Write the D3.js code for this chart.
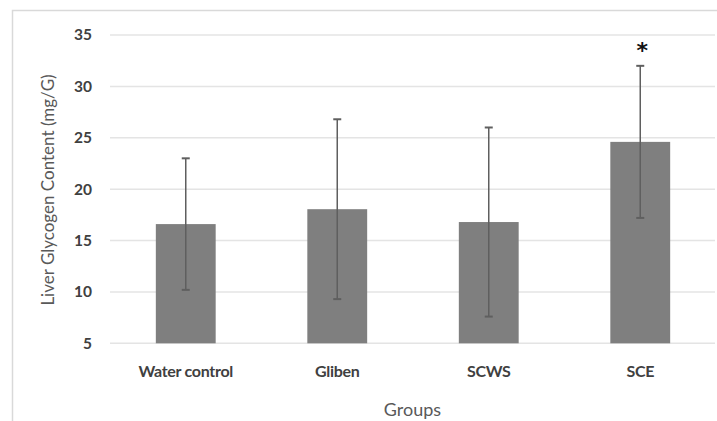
<!DOCTYPE html>
<html><head><meta charset="utf-8">
<script src="https://cdn.jsdelivr.net/npm/d3@7"></script>
<style>body{margin:0;background:#fff}svg{display:block}</style>
</head><body>
<svg id="c" width="717" height="421"></svg>
<script>
const categories = ["Water control", "Gliben", "SCWS", "SCE"];
const means = [16.6, 18.05, 16.8, 24.6];
const errors = [6.4, 8.75, 9.2, 7.4];
const significant = [false, false, false, true];
const yTicks = [5, 10, 15, 20, 25, 30, 35];

const svg = d3.select("#c");
const W = 717, H = 421;
const x = d3.scaleBand().domain(categories).range([110, 716]).paddingInner(0.605).paddingOuter(0.3025);
const y = d3.scaleLinear().domain([5, 35]).range([343.3, 35]);

// frame
svg.append("path").attr("d", `M12.5,${H+2} V10.5 H${W+2}`).attr("fill","none").attr("stroke","#d9d9d9").attr("stroke-width",1.5);

// gridlines
svg.append("g").selectAll("line").data(yTicks).join("line")
  .attr("x1",110).attr("x2",715).attr("y1",d=>y(d)).attr("y2",d=>y(d))
  .attr("stroke","#e4e4e4").attr("stroke-width",1.5);

// y axis labels
const yAxis = d3.axisLeft(y).tickValues(yTicks).tickSize(0).tickPadding(0);
const gy = svg.append("g").attr("transform","translate(92,0)").call(yAxis);
gy.select(".domain").remove();
gy.selectAll("text").attr("font-family","Lato, 'Open Sans', sans-serif").attr("font-size",15.5).attr("font-weight","bold").attr("fill","#404040");

// bars
svg.append("g").selectAll("rect").data(categories).join("rect")
  .attr("x",d=>x(d)).attr("width",x.bandwidth())
  .attr("y",(d,i)=>y(means[i])).attr("height",(d,i)=>y(5)-y(means[i]))
  .attr("fill","#7f7f7f");

// error bars
const eb = svg.append("g").attr("stroke","#5f5f5f").attr("stroke-width",1.5);
categories.forEach((c,i)=>{
  const cx = x(c)+x.bandwidth()/2;
  const t = y(means[i]+errors[i]), b = y(means[i]-errors[i]);
  eb.append("line").attr("x1",cx).attr("x2",cx).attr("y1",t).attr("y2",b);
  eb.append("line").attr("x1",cx-4).attr("x2",cx+4).attr("y1",t).attr("y2",t).attr("stroke-width",2);
  eb.append("line").attr("x1",cx-4).attr("x2",cx+4).attr("y1",b).attr("y2",b).attr("stroke-width",2);
  if (significant[i]) {
    svg.append("text").attr("x",cx+2).attr("y",y(means[i]+errors[i])-8)
      .attr("text-anchor","middle").attr("font-family","DejaVu Sans, sans-serif").attr("font-weight","bold")
      .attr("font-size",22).attr("fill","#111").text("*");
  }
});

// x axis labels
const xAxis = d3.axisBottom(x).tickSize(0).tickPadding(0);
const gx = svg.append("g").attr("transform","translate(0,366)").call(xAxis);
gx.select(".domain").remove();
gx.selectAll("text").attr("font-family","Lato, 'Open Sans', sans-serif").attr("font-size",16).attr("font-weight","bold").attr("fill","#404040").attr("letter-spacing","-0.3");

// axis titles
svg.append("text").attr("x",412.5).attr("y",416).attr("text-anchor","middle")
  .attr("font-family","Lato, 'Open Sans', sans-serif").attr("font-size",18).attr("fill","#595959").text("Groups");
svg.append("text").attr("transform","translate(54,190) rotate(-90)").attr("text-anchor","middle")
  .attr("font-family","Lato, 'Open Sans', sans-serif").attr("font-size",17).attr("fill","#595959").text("Liver Glycogen Content (mg/G)");
</script>
</body></html>
